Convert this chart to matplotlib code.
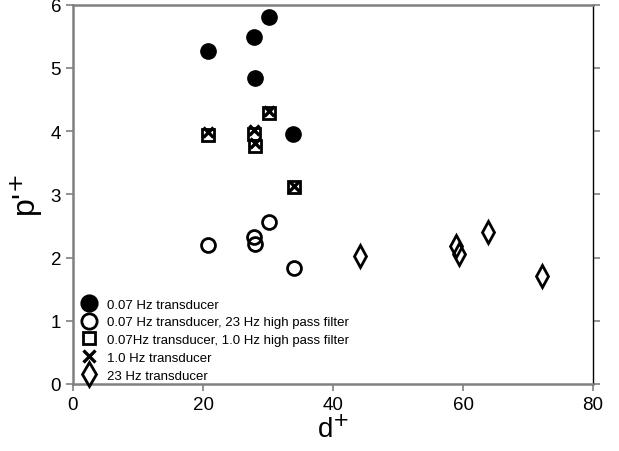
import matplotlib
matplotlib.use("Agg")
import matplotlib.pyplot as plt

plt.rcParams['font.family'] = ['Liberation Sans', 'DejaVu Sans']

# data
d_filled = [20.8, 27.8, 30.2, 28.0, 33.9]
p_filled = [5.27, 5.49, 5.81, 4.84, 3.95]

d_open = [20.8, 27.8, 28.0, 30.2, 34.0]
p_open = [2.19, 2.33, 2.21, 2.56, 1.84]

d_square = [20.8, 27.8, 28.0, 30.2, 34.0]
p_square = [3.93, 3.96, 3.77, 4.29, 3.11]

d_x = [20.8, 27.8, 28.0, 30.2, 34.0]
p_x = [3.99, 4.01, 3.81, 4.31, 3.13]

d_diamond = [44.2, 58.9, 59.4, 63.9, 72.2]
p_diamond = [2.02, 2.18, 2.06, 2.40, 1.71]

labels = ["0.07 Hz transducer",
          "0.07 Hz transducer, 23 Hz high pass filter",
          "0.07Hz transducer, 1.0 Hz high pass filter",
          "1.0 Hz transducer",
          "23 Hz transducer"]

fig = plt.figure(figsize=(6.19, 4.52), dpi=100)
ax = fig.add_axes([73/619, 67/452, 520/619, 379.5/452])

h1, = ax.plot(d_filled, p_filled, 'o', ms=11, mfc='black', mec='black', ls='none', label=labels[0])
h2, = ax.plot(d_open, p_open, 'o', ms=10, mfc='none', mec='black', mew=2, ls='none', label=labels[1])
h3, = ax.plot(d_square, p_square, 's', ms=8.5, mfc='none', mec='black', mew=2, ls='none', label=labels[2])
h4, = ax.plot(d_x, p_x, 'x', ms=7.5, mec='black', mew=2.4, ls='none', label=labels[3])
h5, = ax.plot(d_diamond, p_diamond, 'd', ms=11, mfc='none', mec='black', mew=2, ls='none', label=labels[4])

ax.set_xlim(0, 80)
ax.set_ylim(0, 6)
ax.set_xticks([0, 20, 40, 60, 80])
ax.set_yticks([0, 1, 2, 3, 4, 5, 6])

ax.tick_params(axis='both', direction='out', labelsize=13.5, color='#808080', length=5, width=1.2)
ax.tick_params(axis='y', right=True, labelright=False)

for s in ['left', 'bottom', 'top']:
    ax.spines[s].set_color('#808080')
    ax.spines[s].set_linewidth(1.8)
ax.spines['right'].set_color('black')
ax.spines['right'].set_linewidth(1.0)

ax.set_xlabel(r"d$^{+}$", fontsize=20, labelpad=2)
ax.set_ylabel(r"p'$^{+}$", fontsize=23, labelpad=4)

leg = ax.legend(handles=[h1, h2, h3, h4, h5], loc='lower left', bbox_to_anchor=(-0.005, -0.025),
                frameon=False, fontsize=9.5, handlelength=1.0, handletextpad=0.9,
                labelspacing=0.42, borderaxespad=0.5, markerscale=1.1)

fig.savefig("out.png", dpi=100)
